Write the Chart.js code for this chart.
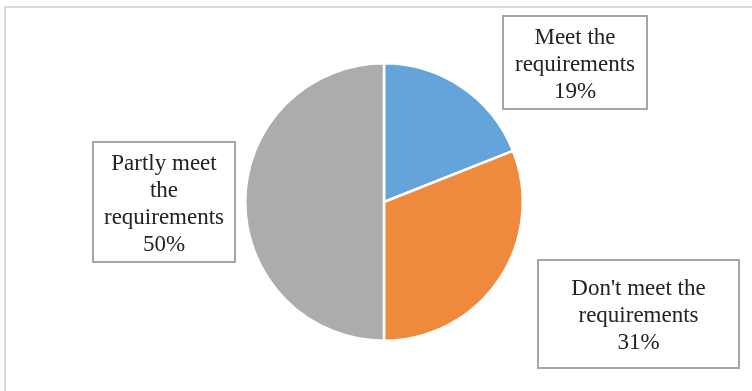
<!DOCTYPE html>
<html>
<head>
<meta charset="utf-8">
<script src="https://cdn.jsdelivr.net/npm/chart.js@4"></script>
<style>
  html, body { margin: 0; padding: 0; background: #ffffff; }
  #wrap { position: relative; width: 752px; height: 391px; }
</style>
</head>
<body>
<div id="wrap"><canvas id="c" width="752" height="391"></canvas></div>
<script>
// Survey results: share of answers per category
const categories = ["Meet the requirements", "Don't meet the requirements", "Partly meet the requirements"];
const shares = [19, 31, 50];
const sliceColors = ["#65A4DA", "#EF893B", "#ACACAC"];

// Label text lines for each category, followed by the percentage
const labelLines = [
  ["Meet the", "requirements"],
  ["Don't meet the", "requirements"],
  ["Partly meet", "the", "requirements"]
];
// Boxed label rectangles [left, top, right, bottom]
const labelBoxes = [
  [503, 16, 647, 109],
  [538, 260, 739, 368],
  [93, 142, 235, 262]
];

// Thin light frame along top and left edges
const framePlugin = {
  id: 'frame',
  beforeDraw(chart) {
    const ctx = chart.ctx;
    ctx.save();
    ctx.fillStyle = '#d9d9d9';
    ctx.fillRect(4, 6, 752 - 4, 2);
    ctx.fillRect(4, 6, 2, 391 - 6);
    ctx.restore();
  }
};

// Boxed data labels with category name and percentage
const boxLabelPlugin = {
  id: 'boxLabels',
  afterDatasetsDraw(chart) {
    const ctx = chart.ctx;
    const data = chart.data.datasets[0].data;
    ctx.save();
    ctx.font = '23px "Liberation Serif", "Times New Roman", serif';
    ctx.textAlign = 'center';
    ctx.textBaseline = 'middle';
    data.forEach((v, i) => {
      const [l, t, r, b] = labelBoxes[i];
      ctx.fillStyle = '#ffffff';
      ctx.fillRect(l, t, r - l, b - t);
      ctx.strokeStyle = '#a6a6a6';
      ctx.lineWidth = 2;
      ctx.strokeRect(l, t, r - l, b - t);
      const lines = labelLines[i].concat([v + '%']);
      const lh = 27;
      const cx = (l + r) / 2;
      const cy = (t + b) / 2 + 2;
      const y0 = cy - (lines.length - 1) * lh / 2;
      ctx.fillStyle = '#222222';
      lines.forEach((s, k) => ctx.fillText(s, cx, y0 + k * lh));
    });
    ctx.restore();
  }
};

new Chart(document.getElementById('c'), {
  type: 'pie',
  data: {
    labels: categories,
    datasets: [{
      data: shares,
      backgroundColor: sliceColors,
      borderColor: '#ffffff',
      borderWidth: 2.5
    }]
  },
  options: {
    responsive: false,
    animation: false,
    layout: { padding: { left: 16, right: 0, top: 62, bottom: 49 } },
    plugins: {
      legend: { display: false },
      tooltip: { enabled: false }
    }
  },
  plugins: [framePlugin, boxLabelPlugin]
});
</script>
</body>
</html>
